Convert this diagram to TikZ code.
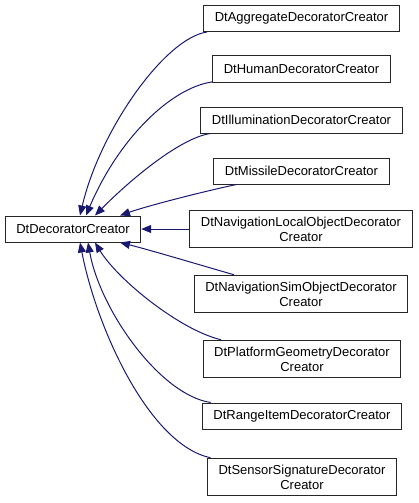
\documentclass[tikz,border=0pt]{standalone}
\usepackage{fontspec}
\setmainfont{Liberation Sans}
\usetikzlibrary{arrows.meta}
\definecolor{edgeblue}{HTML}{191970}

\begin{document}
\begin{tikzpicture}[->,>={Triangle[length=10pt,width=8pt]},x=1pt,y=-1pt,
  line width=1pt,
  class node/.style={draw=black!85,fill=white,font=\fontsize{13}{15}\selectfont,
    align=center,inner xsep=11pt,inner ysep=6.5pt,minimum height=26pt},
  inherit/.style={draw=edgeblue}]

  \useasboundingbox (0,0) rectangle (419,503);

  \node[class node] (dc) at (73,229) {DtDecoratorCreator};

  \node[class node] (agg) at (301.5,18.5) {DtAggregateDecoratorCreator};
  \node[class node] (hum) at (301.5,69) {DtHumanDecoratorCreator};
  \node[class node] (ill) at (301.5,120) {DtIlluminationDecoratorCreator};
  \node[class node] (mis) at (301.5,171) {DtMissileDecoratorCreator};
  \node[class node] (navl) at (301,229) {DtNavigationLocalObjectDecorator\\Creator};
  \node[class node] (navs) at (301,294) {DtNavigationSimObjectDecorator\\Creator};
  \node[class node] (plat) at (302,359) {DtPlatformGeometryDecorator\\Creator};
  \node[class node] (rng) at (302,416) {DtRangeItemDecoratorCreator};
  \node[class node] (sens) at (302,477) {DtSensorSignatureDecorator\\Creator};

  % edges from the derived classes to the base
  \draw[inherit] (agg) .. controls (165,38) and (100,130) .. ([xshift=7pt]dc.north);
  \draw[inherit] (hum) .. controls (170,88) and (118,140) .. ([xshift=13pt]dc.north);
  \draw[inherit] (ill) .. controls (180,138) and (130,180) .. ([xshift=22pt]dc.north);
  \draw[inherit] (mis) .. controls (210,190) and (150,205) .. ([xshift=47pt]dc.north);
  \draw[inherit] (navl) -- (dc);
  \draw[inherit] (navs) .. controls (200,265) and (150,250) .. ([xshift=47pt]dc.south);
  \draw[inherit] (plat) .. controls (180,330) and (118,280) .. ([xshift=22pt]dc.south);
  \draw[inherit] (rng) .. controls (160,395) and (100,310) .. ([xshift=15pt]dc.south);
  \draw[inherit] (sens) .. controls (150,445) and (97,330) .. ([xshift=7pt]dc.south);

\end{tikzpicture}
\end{document}
